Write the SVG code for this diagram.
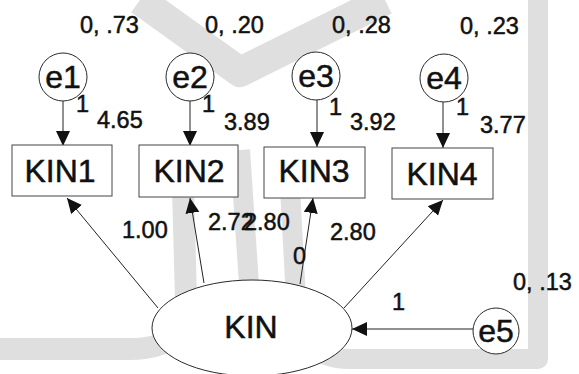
<svg xmlns="http://www.w3.org/2000/svg" width="579" height="374" viewBox="0 0 579 374">
  <style>
    .wm { fill: none; stroke: #dfdfdf; stroke-linecap: butt; stroke-linejoin: round; }
    .node { fill: #ffffff; stroke: #2a2a2a; stroke-width: 1; }
    .box { fill: #ffffff; stroke: #444444; stroke-width: 1; }
    .edge { fill: none; stroke: #222222; stroke-width: 1; }
    .lbl { font-family: "Liberation Sans", Arial, sans-serif; fill: #111111; stroke: #111111; stroke-width: 0.5; }
    .big { font-size: 32px; text-anchor: middle; }
    .num { font-size: 23.5px; }
  </style>
  <defs>
    <marker id="arrow" markerUnits="userSpaceOnUse" markerWidth="16" markerHeight="16"
            viewBox="0 0 16 16" refX="15" refY="8" orient="auto">
      <path d="M0,1 L15,8 L0,15 Z" fill="#111111"/>
    </marker>
  </defs>

  <rect width="579" height="374" fill="#ffffff"/>

  <!-- faint background emblem -->
  <g id="emblem">
    <path class="wm" stroke-width="30" d="M140,0 L240,72 L385,0"/>
    <path class="wm" stroke-width="22" d="M182,150 L186,300 Q188,349 130,349 L0,349"/>
    <path class="wm" stroke-width="20" d="M240,150 L255,374"/>
    <path class="wm" stroke-width="20" d="M288,150 L296,300 Q298,359 350,359 L538,359 L538,0"/>
  </g>

  <!-- connectors -->
  <g id="connectors">
    <line class="edge" x1="63" y1="101" x2="63" y2="146" marker-end="url(#arrow)"/>
    <line class="edge" x1="190" y1="101" x2="190" y2="146" marker-end="url(#arrow)"/>
    <line class="edge" x1="317" y1="100" x2="317" y2="147" marker-end="url(#arrow)"/>
    <line class="edge" x1="443" y1="102" x2="443" y2="148" marker-end="url(#arrow)"/>
    <line class="edge" x1="158" y1="308" x2="67" y2="198" marker-end="url(#arrow)"/>
    <line class="edge" x1="204" y1="283" x2="190" y2="198" marker-end="url(#arrow)"/>
    <line class="edge" x1="300" y1="284" x2="313" y2="198" marker-end="url(#arrow)"/>
    <line class="edge" x1="344" y1="308" x2="443" y2="200" marker-end="url(#arrow)"/>
    <line class="edge" x1="473" y1="329" x2="352" y2="329" marker-end="url(#arrow)"/>
  </g>

  <!-- error terms -->
  <g id="e1">
    <circle class="node" cx="63" cy="77" r="24"/>
    <text class="lbl big" x="63" y="88">e1</text>
  </g>
  <g id="e2">
    <circle class="node" cx="190" cy="77" r="24"/>
    <text class="lbl big" x="190" y="88">e2</text>
  </g>
  <g id="e3">
    <circle class="node" cx="316" cy="76" r="24"/>
    <text class="lbl big" x="316" y="87">e3</text>
  </g>
  <g id="e4">
    <circle class="node" cx="444" cy="78" r="24"/>
    <text class="lbl big" x="444" y="89">e4</text>
  </g>
  <g id="e5">
    <circle class="node" cx="496" cy="331" r="23"/>
    <text class="lbl big" x="496" y="342">e5</text>
  </g>

  <!-- observed indicators -->
  <g id="KIN1">
    <rect class="box" x="12" y="145" width="100" height="51"/>
    <text class="lbl big" x="60" y="182">KIN1</text>
  </g>
  <g id="KIN2">
    <rect class="box" x="139" y="145" width="99" height="52"/>
    <text class="lbl big" x="189" y="182">KIN2</text>
  </g>
  <g id="KIN3">
    <rect class="box" x="264" y="147" width="101" height="51"/>
    <text class="lbl big" x="314" y="182">KIN3</text>
  </g>
  <g id="KIN4">
    <rect class="box" x="392" y="148" width="101" height="51"/>
    <text class="lbl big" x="442" y="185">KIN4</text>
  </g>

  <!-- latent factor -->
  <g id="KIN">
    <ellipse class="node" cx="252" cy="328" rx="100" ry="48"/>
    <text class="lbl big" x="251" y="338">KIN</text>
  </g>

  <!-- estimates -->
  <g id="estimates" class="lbl num">
    <text x="80" y="33">0, .73</text>
    <text x="205" y="33">0, .20</text>
    <text x="332" y="33">0, .28</text>
    <text x="460" y="34">0, .23</text>
    <text x="513" y="290">0, .13</text>
    <text x="76" y="112">1</text>
    <text x="202" y="112">1</text>
    <text x="329" y="115">1</text>
    <text x="456" y="115">1</text>
    <text x="97" y="128">4.65</text>
    <text x="224" y="130">3.89</text>
    <text x="350" y="130">3.92</text>
    <text x="480" y="133">3.77</text>
    <text x="122" y="238">1.00</text>
    <text x="208" y="230">2.72</text>
    <text x="244" y="230">2.80</text>
    <text x="293" y="264">0</text>
    <text x="330" y="240">2.80</text>
    <text x="392" y="310">1</text>
  </g>
</svg>
